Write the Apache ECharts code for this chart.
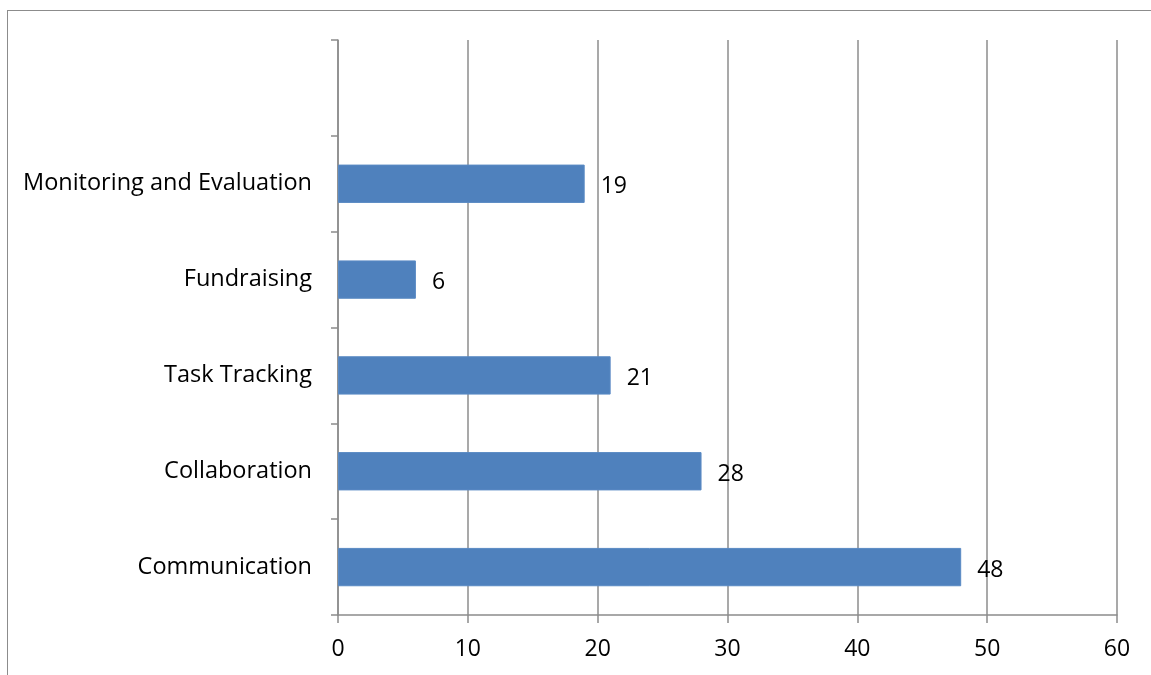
<!DOCTYPE html>
<html><head><meta charset="utf-8">
<script src="https://cdn.jsdelivr.net/npm/echarts@6/dist/echarts.min.js"></script>
<style>html,body{margin:0;padding:0;background:#fff}#c{width:1151px;height:675px}
#frame{position:absolute;left:7px;top:10px;width:1200px;height:700px;border:1.5px solid #8c8c8c;box-sizing:border-box;pointer-events:none}</style>
</head><body><div id="c"></div><div id="frame"></div>
<script>
const categories = ['Communication', 'Collaboration', 'Task Tracking', 'Fundraising', 'Monitoring and Evaluation', ''];
const values = [48, 28, 21, 6, 19, null];
const xTicks = [0, 10, 20, 30, 40, 50, 60];

const font = '"Open Sans", "Noto Sans", sans-serif';
const chart = echarts.init(document.getElementById('c'));
chart.setOption({
  animation: false,
  grid: { left: 338, right: 34, top: 40, bottom: 60, containLabel: false },
  xAxis: {
    type: 'value', min: xTicks[0], max: xTicks[xTicks.length - 1], interval: 10,
    axisLine: { show: true, lineStyle: { color: '#8c8c8c', width: 1.5 } },
    axisTick: { show: true, length: 8, lineStyle: { color: '#8c8c8c', width: 1.5 } },
    splitLine: { show: true, lineStyle: { color: '#8c8c8c', width: 1.5 } },
    axisLabel: { color: '#000', fontSize: 23, fontFamily: font, margin: 23 }
  },
  yAxis: {
    type: 'category', data: categories,
    axisLine: { show: true, lineStyle: { color: '#8c8c8c', width: 1.5 } },
    axisTick: { show: true, length: 7, alignWithLabel: false, lineStyle: { color: '#8c8c8c', width: 1.5 } },
    axisLabel: { color: '#000', fontSize: 23.5, fontFamily: font, margin: 26, padding: [4, 0, 0, 0] }
  },
  series: [{
    type: 'bar', data: values, barWidth: '40%',
    itemStyle: { color: '#4F81BD', borderColor: '#5a8ac4', borderWidth: 1 },
    label: { show: true, position: 'right', distance: 16, offset: [0, 3], color: '#000', fontSize: 23, fontFamily: font }
  }]
});
</script></body></html>
